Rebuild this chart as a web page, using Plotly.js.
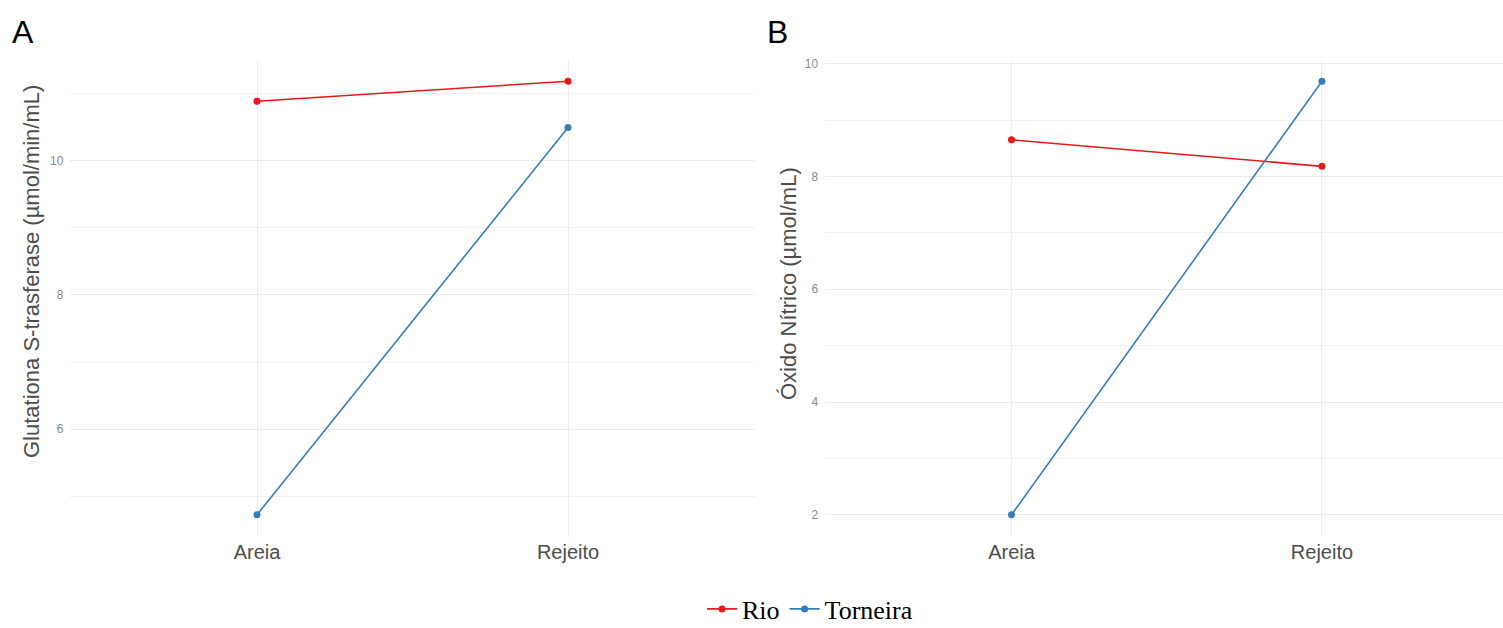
<!DOCTYPE html>
<html>
<head>
<meta charset="utf-8">
<script src="https://cdn.plot.ly/plotly-3.0.1.min.js"></script>
<style>html,body{margin:0;padding:0;background:#fff;}#chart{width:1503px;height:628px;}</style>
</head>
<body>
<div id="chart"></div>
<script>
// Data
const categories = ["Areia", "Rejeito"];
const seriesNames = ["Rio", "Torneira"];
const gstRio = [10.89, 11.19];
const gstTorneira = [4.72, 10.50];
const noRio = [8.65, 8.18];
const noTorneira = [2.00, 9.69];
const panelLabels = ["A", "B"];
const yTitleA = "Glutationa S-trasferase (µmol/min/mL)";
const yTitleB = "Óxido Nítrico (µmol/mL)";

const red = "#E41A1C", blue = "#377EB8";
function tr(x, y, name, color, xa, ya, show) {
  return {x: x, y: y, name: name, type: "scatter", mode: "lines+markers",
    line: {color: color, width: 1.6}, marker: {color: color, size: 7},
    xaxis: xa, yaxis: ya, showlegend: show, legendgroup: name};
}
const data = [
  tr(categories, gstRio, seriesNames[0], red, "x", "y", true),
  tr(categories, gstTorneira, seriesNames[1], blue, "x", "y", true),
  tr(categories, noRio, seriesNames[0], red, "x2", "y2", false),
  tr(categories, noTorneira, seriesNames[1], blue, "x2", "y2", false)
];

const W = 1503, H = 628;
const yTop = 59.5, yBot = 536.5;
const ydom = [1 - yBot / H, 1 - yTop / H];
const grid = "#EBEBEB";
const sans = "Liberation Sans, Arial";
const xCommon = {type: "category", showgrid: true, gridcolor: "#EDEDED", gridwidth: 1, zeroline: false,
  showline: false, ticks: "", tickfont: {family: sans, size: 20, color: "#4D4D4D"},
  ticklabelstandoff: 1, automargin: false};
const yCommon = {showgrid: true, gridcolor: grid, gridwidth: 1, zeroline: false, showline: false,
  ticks: "", tick0: 0, dtick: 2, domain: ydom, ticklabelstandoff: 6, automargin: false,
  tickfont: {family: sans, size: 12, color: "#8A8A8A"},
  minor: {tick0: 1, dtick: 2, showgrid: true, gridcolor: "#F1F1F1", gridwidth: 1}};

function dom(l, r) { return [l / W, r / W]; }
const titleFont = {family: sans, size: 22, color: "#4D4D4D"};
const labelFont = {family: sans, size: 32, color: "#000"};
const layout = {
  width: W, height: H, paper_bgcolor: "#fff", plot_bgcolor: "#fff",
  margin: {l: 0, r: 0, t: 0, b: 0, autoexpand: false},
  xaxis: Object.assign({}, xCommon, {domain: dom(70.4, 754.6), range: [-0.6, 1.6], anchor: "y"}),
  yaxis: Object.assign({}, yCommon, {range: [4.3965, 11.5135], anchor: "x"}),
  xaxis2: Object.assign({}, xCommon, {domain: dom(825.2, 1503), range: [-0.6, 1.583], anchor: "y2"}),
  yaxis2: Object.assign({}, yCommon, {range: [1.6155, 10.0745], anchor: "x2"}),
  legend: {orientation: "h", x: 810 / W, xanchor: "center", y: 1 - 609 / H, yanchor: "middle",
    font: {family: "Liberation Serif, Times New Roman", size: 26, color: "#000"},
    itemwidth: 30, tracegroupgap: 0},
  annotations: [
    {text: panelLabels[0], xref: "paper", yref: "paper", x: 10 / W, y: 1 - 32 / H, xanchor: "left", yanchor: "middle",
     showarrow: false, font: labelFont},
    {text: panelLabels[1], xref: "paper", yref: "paper", x: 765 / W, y: 1 - 32 / H, xanchor: "left", yanchor: "middle",
     showarrow: false, font: labelFont},
    {text: yTitleA, xref: "paper", yref: "paper", x: 31 / W, y: 1 - 272 / H, xanchor: "center", yanchor: "middle",
     textangle: -90, showarrow: false, font: titleFont},
    {text: yTitleB, xref: "paper", yref: "paper", x: 788 / W, y: 1 - 284 / H, xanchor: "center", yanchor: "middle",
     textangle: -90, showarrow: false, font: titleFont}
  ]
};
Plotly.newPlot("chart", data, layout, {displayModeBar: false, staticPlot: true});
</script>
</body>
</html>
